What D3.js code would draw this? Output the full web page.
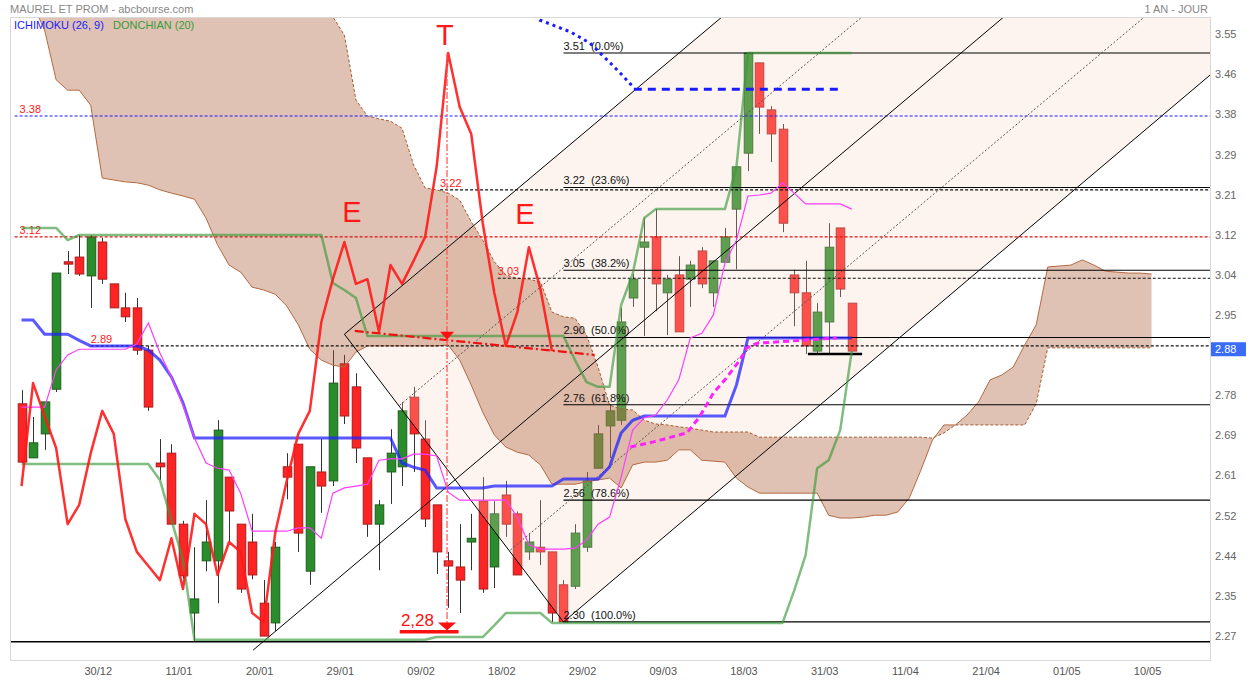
<!DOCTYPE html>
<html><head><meta charset="utf-8">
<script src="https://cdn.jsdelivr.net/npm/d3@7"></script>
<style>
body{margin:0;background:#fff;}
svg{display:block;font-family:"Liberation Sans",Arial,sans-serif;}
</style>
</head><body>
<svg id="c" width="1254" height="681"></svg>
<script>
// ---------- DATA ----------
const opens=[2.764,2.649,2.700,2.795,3.066,3.076,3.036,3.108,3.019,2.968,
2.968,2.878,2.638,2.659,2.508,2.319,2.430,2.430,2.608,2.508,
2.470,2.340,2.298,2.630,2.678,2.408,2.619,2.600,2.849,2.800,
2.649,2.508,2.619,2.630,2.778,2.689,2.549,2.430,2.417,2.470,
2.557,2.417,2.570,2.530,2.449,2.459,2.449,2.379,2.376,2.459,
2.627,2.717,2.729,2.989,3.097,3.119,3.000,3.038,3.029,3.089,
3.000,3.065,3.178,3.297,3.489,3.389,3.348,3.038,3.000,2.876,
2.938,3.138,2.978];
const highs=[2.793,2.736,2.768,3.042,3.089,3.123,3.123,3.117,3.019,3.000,
2.989,2.887,2.689,2.678,2.515,2.459,2.559,2.729,2.608,2.508,
2.530,2.389,2.470,2.659,2.678,2.630,2.689,2.878,2.868,2.829,
2.649,2.559,2.710,2.768,2.800,2.729,2.549,2.449,2.508,2.530,
2.608,2.557,2.600,2.535,2.489,2.559,2.449,2.389,2.508,2.619,
2.719,2.763,2.968,3.040,3.159,3.178,3.038,3.078,3.068,3.097,
3.068,3.138,3.268,3.510,3.489,3.397,3.359,3.049,3.068,2.978,
3.148,3.138,2.978];
const lows=[2.638,2.649,2.666,2.789,3.040,3.036,2.968,3.019,2.968,2.938,
2.868,2.749,2.602,2.508,2.392,2.259,2.408,2.340,2.470,2.362,
2.391,2.270,2.281,2.561,2.449,2.379,2.532,2.589,2.721,2.638,
2.481,2.410,2.551,2.589,2.619,2.502,2.402,2.330,2.319,2.410,
2.362,2.372,2.481,2.400,2.432,2.421,2.300,2.300,2.370,2.449,
2.627,2.649,2.719,2.970,2.908,2.961,2.910,2.917,2.970,3.010,
2.970,3.065,3.050,3.259,3.338,3.278,3.129,2.929,2.870,2.870,
2.870,2.991,2.876];
const closes=[2.640,2.681,2.768,3.042,3.061,3.040,3.119,3.029,2.968,2.949,
2.878,2.757,2.630,2.508,2.398,2.349,2.470,2.708,2.536,2.370,
2.400,2.270,2.459,2.608,2.489,2.630,2.589,2.808,2.738,2.670,
2.508,2.549,2.659,2.749,2.700,2.519,2.449,2.419,2.389,2.478,
2.370,2.530,2.508,2.400,2.470,2.449,2.319,2.300,2.489,2.600,
2.700,2.749,2.938,3.029,3.108,3.019,3.029,2.917,3.059,3.019,
3.068,3.119,3.268,3.510,3.395,3.338,3.148,3.000,2.887,2.959,
3.097,3.008,2.876];

const tenkan=[2.757,2.757,2.757,2.836,2.868,2.880,2.880,2.880,2.880,2.880,
2.891,2.936,2.872,2.821,2.761,2.691,2.638,2.627,2.623,2.574,
2.493,2.493,2.493,2.493,2.500,2.500,2.478,2.574,2.585,2.589,
2.593,2.644,2.647,2.647,2.657,2.657,2.653,2.576,2.559,2.559,
2.559,2.559,2.559,2.523,2.464,2.455,2.455,2.455,2.457,2.474,
2.508,2.523,2.608,2.708,2.734,2.740,2.772,2.815,2.904,2.914,
2.953,3.063,3.112,3.206,3.208,3.212,3.234,3.212,3.189,3.189,
3.189,3.189,3.178];
const kijun=[2.942,2.942,2.912,2.912,2.912,2.899,2.887,2.887,2.887,2.887,
2.887,2.878,2.857,2.821,2.766,2.691,2.691,2.691,2.691,2.691,
2.691,2.691,2.691,2.691,2.691,2.691,2.691,2.691,2.691,2.691,
2.691,2.691,2.691,2.638,2.629,2.623,2.585,2.585,2.585,2.585,
2.585,2.589,2.589,2.589,2.589,2.589,2.589,2.604,2.604,2.604,
2.604,2.630,2.702,2.729,2.738,2.738,2.738,2.738,2.738,2.738,
2.738,2.738,2.804,2.904,2.904,2.904,2.904,2.904,2.904,2.904,
2.904,2.904,2.904];
const spanA=[3.644,3.612,3.559,3.453,3.431,3.431,3.399,3.244,3.240,3.236,
3.234,3.229,3.219,3.212,3.206,3.199,3.159,3.102,3.059,3.044,
3.012,3.006,2.997,2.972,2.932,2.880,2.857,2.846,2.842,2.874,
2.887,2.887,2.887,2.887,2.887,2.887,2.887,2.889,2.857,2.804,
2.746,2.698,2.672,2.661,2.655,2.634,2.593,2.593,2.593,2.598,
2.602,2.606,2.585,2.634,2.640,2.640,2.644,2.666,2.666,2.644,
2.642,2.640,2.606,2.587,2.574,2.574,2.574,2.574,2.574,2.574,
2.527,2.521,2.521,2.523,2.527,2.527,2.534,2.564,2.623,2.687,
2.719,2.719,2.740,2.768,2.815,2.825,2.842,2.889,2.932,3.055,
3.057,3.059,3.070,3.059,3.046,3.044,3.042,3.042,3.040];
const spanB=[3.75,3.75,3.75,3.75,3.75,3.75,3.75,3.75,3.75,3.75,
3.75,3.75,3.75,3.75,3.75,3.75,3.75,3.75,3.75,3.75,
3.75,3.75,3.75,3.75,3.75,3.75,3.64,3.587,3.548,3.410,
3.376,3.370,3.365,3.350,3.272,3.223,3.219,3.212,3.197,3.151,
3.112,3.066,3.038,3.031,3.029,3.023,2.959,2.949,2.946,2.910,
2.842,2.761,2.753,2.751,2.729,2.721,2.719,2.715,2.712,2.708,
2.704,2.704,2.704,2.704,2.693,2.693,2.693,2.693,2.693,2.693,
2.693,2.693,2.693,2.693,2.693,2.693,2.693,2.693,2.693,2.691,
2.702,2.719,2.719,2.719,2.719,2.719,2.719,2.719,2.764,2.883,
2.883,2.883,2.883,2.883,2.883,2.883,2.883,2.883,2.883];
const donchUp=[3.138,3.138,3.138,3.138,3.112,3.123,3.123,3.123,3.123,3.123,
3.123,3.123,3.123,3.123,3.123,3.123,3.123,3.123,3.123,3.123,
3.123,3.123,3.123,3.123,3.123,3.123,3.123,3.021,3.006,2.989,
2.908,2.908,2.908,2.908,2.908,2.908,2.908,2.908,2.908,2.908,
2.908,2.908,2.908,2.908,2.908,2.908,2.908,2.908,2.857,2.810,
2.800,2.800,2.974,3.040,3.159,3.178,3.178,3.178,3.178,3.178,
3.178,3.178,3.268,3.510,3.510,3.510,3.510,3.510,3.510,3.510,
3.510,3.510,3.510];
const donchLo=[2.636,2.636,2.636,2.636,2.636,2.636,2.636,2.636,2.636,2.636,
2.636,2.636,2.602,2.517,2.432,2.262,2.262,2.262,2.262,2.262,
2.262,2.262,2.262,2.262,2.262,2.262,2.262,2.262,2.262,2.262,
2.262,2.262,2.262,2.262,2.262,2.262,2.268,2.268,2.268,2.268,
2.268,2.293,2.319,2.319,2.319,2.319,2.298,2.298,2.298,2.298,
2.298,2.298,2.298,2.298,2.298,2.298,2.298,2.298,2.298,2.298,
2.298,2.298,2.298,2.298,2.298,2.298,2.298,2.366,2.442,2.627,
2.644,2.708,2.876];

const fibValues=[3.51,3.224,3.048,2.905,2.762,2.559,2.30];
const fibLabels=['3.51  (0.0%)','3.22  (23.6%)','3.05  (38.2%)','2.90  (50.0%)','2.76  (61.8%)','2.56  (78.6%)','2.30  (100.0%)'];
const fibStartIdx=48;

const levelValues=[3.376,3.119,3.219,3.031,2.887];
const levelLabels=['3.38','3.12','3.22','3.03','2.89'];
const levelStartIdx=[0.4,0.4,37.3,42.3,7.0];
const levelColors=['#1a1aff','#e01010','#111','#111','#111'];

const projIdx=[45.0,45.96,48.6,50.3,51.8,53.1,54.1];
const projVal=[3.60,3.580,3.555,3.531,3.495,3.463,3.436];
const projFlatIdx=[54.1,71.8];
const projFlatVal=3.433;
const magIdx=[53.8,55.8,58.7,59.8,61.0,62.0,63.3,63.9,64.8,66.2,71.7];
const magVal=[2.672,2.683,2.702,2.736,2.787,2.815,2.857,2.883,2.893,2.895,2.904];

// channel lines: [i1,v1,i2,v2,dotted]
const channelLines=[[29,2.912,61.76,3.587,0],[29,2.912,48,2.300,0],[21.08,2.240,86.2,3.587,0],
 [48,2.300,104.07,3.463,0],[33.8,2.761,73.9,3.587,1],[43.4,2.453,98.4,3.587,1]];

const xTickIdx=[8,15,22,29,36,43,50,57,64,71,78,85,92,99];
const xTickLabels=['30/12','11/01','20/01','29/01','09/02','18/02','29/02','09/03','18/03','31/03','11/04','21/04','01/05','10/05'];
const yTickValues=[3.5500,3.4647,3.3794,3.2941,3.2088,3.1235,3.0382,2.9529,2.7823,2.6970,2.6117,2.5264,2.4411,2.3558,2.2705];
const yTickLabels=['3.55','3.46','3.38','3.29','3.21','3.12','3.04','2.95','2.78','2.69','2.61','2.52','2.44','2.35','2.27'];
const lastPrice=2.88;

// ---------- CHART ----------
const W=1254,H=681;
const P={l:10,t:17,r:1210,b:660};
const x=d3.scaleLinear().domain([0,104.07]).range([P.l,P.r]);
const y=d3.scaleLinear().domain([2.2191,3.5866]).range([P.b,P.t]);
const svg=d3.select('#c');
svg.append('rect').attr('width',W).attr('height',H).attr('fill','#fff');
svg.append('defs').append('clipPath').attr('id','clip').append('rect')
  .attr('x',P.l).attr('y',P.t).attr('width',P.r-P.l).attr('height',P.b-P.t);
const g=svg.append('g').attr('clip-path','url(#clip)');

// candles
const candles=opens.map((o,i)=>({i:i+1,o,h:highs[i],l:lows[i],c:closes[i]}));
const bw=(x(1)-x(0))*0.74;
g.selectAll('line.wick').data(candles).join('line').attr('class','wick')
 .attr('x1',d=>Math.round(x(d.i))+0.5).attr('x2',d=>Math.round(x(d.i))+0.5)
 .attr('y1',d=>y(d.h)).attr('y2',d=>y(d.l)).attr('stroke','#333').attr('stroke-width',1);
g.selectAll('rect.body').data(candles).join('rect').attr('class','body')
 .attr('x',d=>Math.round(x(d.i))+0.5-bw/2).attr('y',d=>y(Math.max(d.o,d.c)))
 .attr('width',bw).attr('height',d=>Math.max(1.5,Math.abs(y(d.o)-y(d.c))))
 .attr('fill',d=>d.c>=d.o?'#2a8c2a':'#ff2424')
 .attr('stroke',d=>d.c>=d.o?'#1d5c1d':'#a81c1c').attr('stroke-width',1);

// pale channel fill
const A=channelLines[0],D=channelLines[3];
const pale=[[A[0],A[1]],[A[2],A[3]],[104.07,3.587],[D[2],D[3]],[D[0],D[1]]];
g.append('path').attr('d',d3.line().x(d=>x(d[0])).y(d=>y(d[1]))(pale)+'Z')
 .attr('fill','#f7d5bf').attr('fill-opacity',0.25);

// cloud
const cloud=spanA.map((a,i)=>({i:i+1,a,b:spanB[i]}));
g.append('path').datum(cloud).attr('d',d3.area().x(d=>x(d.i)).y0(d=>y(d.a)).y1(d=>y(d.b)))
 .attr('fill','rgb(165,85,45)').attr('fill-opacity',0.36);
g.append('path').datum(cloud).attr('d',d3.line().x(d=>x(d.i)).y(d=>y(d.a)))
 .attr('fill','none').attr('stroke','#b56a42').attr('stroke-width',1);
g.append('path').datum(cloud).attr('d',d3.line().x(d=>x(d.i)).y(d=>y(d.b)))
 .attr('fill','none').attr('stroke','#a85a30').attr('stroke-width',1).attr('stroke-dasharray','3,2');

// horizontal lines
g.append('line').attr('x1',P.l).attr('x2',P.r).attr('y1',y(2.258)).attr('y2',y(2.258))
 .attr('stroke','#000').attr('stroke-width',1.5);
levelValues.forEach((v,k)=>{
  g.append('line').attr('x1',x(levelStartIdx[k])).attr('x2',P.r).attr('y1',y(v)).attr('y2',y(v))
   .attr('stroke',levelColors[k]).attr('stroke-width',1.2).attr('stroke-dasharray','3,2');
  g.append('text').attr('x',x(levelStartIdx[k])+ (k<2?5:0)).attr('y',y(v)-3).text(levelLabels[k])
   .attr('fill','#ff1a1a').attr('font-size',11);
});
fibValues.forEach((v,k)=>{
  g.append('line').attr('x1',x(fibStartIdx)).attr('x2',P.r).attr('y1',y(v)).attr('y2',y(v))
   .attr('stroke','#000').attr('stroke-width',1.2);
  g.append('text').attr('x',x(fibStartIdx)).attr('y',y(v)-3).text(fibLabels[k])
   .attr('fill','#111').attr('font-size',11).style('white-space','pre');
});
// support bar
g.append('line').attr('x1',x(69.2)).attr('x2',x(73.9)).attr('y1',y(2.870)).attr('y2',y(2.870))
 .attr('stroke','#000').attr('stroke-width',2.5);

// channel
channelLines.forEach(c=>{
  g.append('line').attr('x1',x(c[0])).attr('y1',y(c[1])).attr('x2',x(c[2])).attr('y2',y(c[3]))
   .attr('stroke',c[4]?'#555':'#000').attr('stroke-width',1)
   .attr('stroke-dasharray',c[4]?'2,2':null);
});

const ln=d3.line().x((d,i)=>x(i+1)).y(d=>y(d));
// donchian
[donchUp,donchLo].forEach(arr=>{
  g.append('path').attr('d',ln(arr)).attr('fill','none').attr('stroke','#3c9a3c')
   .attr('stroke-width',2.5).attr('stroke-opacity',0.65).attr('stroke-linejoin','round');
});
// kijun, tenkan
g.append('path').attr('d',ln(kijun)).attr('fill','none').attr('stroke','#2222ff')
 .attr('stroke-width',3).attr('stroke-opacity',0.75);
g.append('path').attr('d',ln(tenkan)).attr('fill','none').attr('stroke','#ff3cff').attr('stroke-width',1.2);
// chikou (closes shifted 26 back)
const chikou=closes.slice(26);
g.append('path').attr('d',ln(chikou)).attr('fill','none').attr('stroke','#ff1a1a')
 .attr('stroke-width',2.5).attr('stroke-opacity',0.9).attr('stroke-linejoin','round');

// projections
const pl=d3.line().x(d=>x(d[0])).y(d=>y(d[1]));
g.append('path').attr('d',pl(projIdx.map((v,k)=>[v,projVal[k]]))).attr('fill','none')
 .attr('stroke','#1a1aff').attr('stroke-width',3).attr('stroke-dasharray','3,4');
g.append('path').attr('d',pl(projFlatIdx.map(v=>[v,projFlatVal]))).attr('fill','none')
 .attr('stroke','#1a1aff').attr('stroke-width',3).attr('stroke-dasharray','8,6');
g.append('path').attr('d',pl(magIdx.map((v,k)=>[v,magVal[k]]))).attr('fill','none')
 .attr('stroke','#ff22ff').attr('stroke-width',3).attr('stroke-dasharray','6,4');

// neckline
g.append('line').attr('x1',x(29.9)).attr('y1',y(2.919)).attr('x2',x(50.7)).attr('y2',y(2.868))
 .attr('stroke','#ee1111').attr('stroke-width',2.2).attr('stroke-dasharray','9,3,2,3');
// vertical target line
const tx=x(37.9);
g.append('line').attr('x1',tx).attr('x2',tx).attr('y1',y(3.51)).attr('y2',y(2.285))
 .attr('stroke','#ff5050').attr('stroke-width',1.2).attr('stroke-dasharray','7,2,2,2');
const tri=(cx,cy,w,h)=>`M${cx-w/2},${cy-h}L${cx+w/2},${cy-h}L${cx},${cy}Z`;
g.append('path').attr('d',tri(tx,y(2.900),14,8)).attr('fill','#ff1010');
g.append('path').attr('d',tri(tx,y(2.282),18,8)).attr('fill','#ff1010');
g.append('line').attr('x1',x(33.8)).attr('x2',x(38.9)).attr('y1',y(2.279)).attr('y2',y(2.279))
 .attr('stroke','#ff1010').attr('stroke-width',3.5);
g.append('text').attr('x',x(33.9)).attr('y',y(2.291)).text('2,28').attr('fill','#ff1010').attr('font-size',17);
[['T',37.72,3.527],['E',29.66,3.151],['E',44.66,3.146]].forEach(a=>{
  g.append('text').attr('x',x(a[1])).attr('y',y(a[2])).attr('text-anchor','middle')
   .text(a[0]).attr('fill','#ff1a1a').attr('font-size',29);
});

// frame
svg.append('rect').attr('x',P.l+0.5).attr('y',P.t+0.5).attr('width',P.r-P.l).attr('height',P.b-P.t)
 .attr('fill','none').attr('stroke','#d8d8d8');

// axes
const ya=svg.append('g').attr('transform',`translate(${P.r},0)`)
 .call(d3.axisRight(y).tickValues(yTickValues).tickFormat((d,i)=>yTickLabels[i]).tickSize(0).tickPadding(5));
ya.select('.domain').remove();
ya.selectAll('text').attr('fill','#666').attr('font-size',11).attr('font-family','"Liberation Sans",Arial,sans-serif');
const xa=svg.append('g').attr('transform',`translate(0,${P.b})`)
 .call(d3.axisBottom(x).tickValues(xTickIdx).tickFormat((d,i)=>xTickLabels[i]).tickSize(0).tickPadding(7));
xa.select('.domain').remove();
xa.selectAll('text').attr('fill','#555').attr('font-size',11).attr('dx',-4.5).attr('font-family','"Liberation Sans",Arial,sans-serif');

// last price tag
svg.append('rect').attr('x',P.r+1).attr('y',y(lastPrice)-7).attr('width',35).attr('height',14).attr('fill','#3a6cf5');
svg.append('text').attr('x',P.r+5).attr('y',y(lastPrice)+4).text(lastPrice.toFixed(2)).attr('fill','#fff').attr('font-size',11);

// header
svg.append('text').attr('x',10).attr('y',13).text('MAUREL ET PROM - abcbourse.com').attr('fill','#888').attr('font-size',11);
svg.append('text').attr('x',1208).attr('y',13).attr('text-anchor','end').text('1 AN - JOUR').attr('fill','#888').attr('font-size',11);
svg.append('text').attr('x',14).attr('y',29).text('ICHIMOKU (26, 9)').attr('fill','#1a1aff').attr('font-size',11);
svg.append('text').attr('x',113).attr('y',29).text('DONCHIAN (20)').attr('fill','#3a9a3a').attr('font-size',11);
</script>
</body></html>
